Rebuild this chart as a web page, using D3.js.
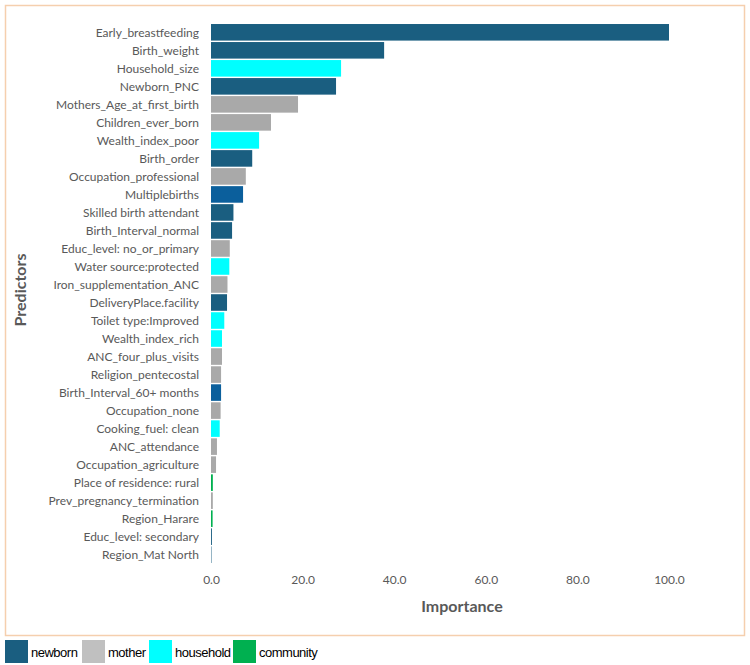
<!DOCTYPE html>
<html>
<head>
<meta charset="utf-8">
<script src="https://cdn.jsdelivr.net/npm/d3@7"></script>
<style>
  body { margin: 0; background: #fff; }
  svg { display: block; }
</style>
</head>
<body>
<div class="content"></div>
<script>
const predictors = [
  'Early_breastfeeding', 'Birth_weight', 'Household_size', 'Newborn_PNC',
  'Mothers_Age_at_first_birth', 'Children_ever_born', 'Wealth_index_poor',
  'Birth_order', 'Occupation_professional', 'Multiplebirths',
  'Skilled birth attendant', 'Birth_Interval_normal', 'Educ_level: no_or_primary',
  'Water source:protected', 'Iron_supplementation_ANC', 'DeliveryPlace.facility',
  'Toilet type:Improved', 'Wealth_index_rich', 'ANC_four_plus_visits',
  'Religion_pentecostal', 'Birth_Interval_60+ months', 'Occupation_none',
  'Cooking_fuel: clean', 'ANC_attendance', 'Occupation_agriculture',
  'Place of residence: rural', 'Prev_pregnancy_termination', 'Region_Harare',
  'Educ_level: secondary', 'Region_Mat North'
]
const importance = [
  100, 37.8, 28.4, 27.3, 19.0, 13.1, 10.5, 9.0, 7.6, 7.0,
  4.9, 4.6, 4.1, 4.0, 3.6, 3.5, 2.9, 2.4, 2.4, 2.2,
  2.2, 2.1, 1.9, 1.3, 1.1, 0.4, 0.4, 0.35, 0.2, 0.1
]
const level = [
  'newborn', 'newborn', 'household', 'newborn', 'mother', 'mother', 'household',
  'newborn', 'mother', 'newborn', 'newborn', 'newborn', 'mother', 'household',
  'mother', 'newborn', 'household', 'household', 'mother', 'mother', 'newborn',
  'mother', 'household', 'mother', 'mother', 'community', 'mother', 'community',
  'newborn', 'newborn'
]
const legendKeys = ['newborn', 'mother', 'household', 'community']
const xTicks = [0, 20, 40, 60, 80, 100]

const barColor = { newborn: '#1a5e80', mother: '#a9a9a9', household: '#00ffff', community: '#00b050' }
const keyColor = { newborn: '#1a5e80', mother: '#c0c0c0', household: '#00ffff', community: '#00b050' }
// two newborn bars are drawn in a brighter blue in the original
const brightBlue = ['Multiplebirths', 'Birth_Interval_60+ months']

const width = 750
const height = 665
const left = 211
const right = 669

const svg = d3.select('div.content')
  .append('svg')
  .attr('width', width)
  .attr('height', height)

// frame
svg.append('rect')
  .attr('x', 5.5)
  .attr('y', 5.5)
  .attr('width', 739)
  .attr('height', 630)
  .attr('fill', 'none')
  .attr('stroke', '#f5cfae')
  .attr('stroke-width', 1.5)

const x = d3.scaleLinear().domain([0, 100]).range([left, right])
const y = d3.scaleBand().domain(predictors).range([23.3, 563.7]).paddingInner(0.08).paddingOuter(0.04)

svg.append('g')
  .selectAll('rect')
  .data(predictors)
  .join('rect')
  .attr('x', x(0))
  .attr('y', d => y(d))
  .attr('width', (d, i) => x(importance[i]) - x(0))
  .attr('height', y.bandwidth())
  .attr('fill', (d, i) => brightBlue.includes(d) ? '#0b5f9c' : barColor[level[i]])

// predictor labels
svg.append('g')
  .selectAll('text')
  .data(predictors)
  .join('text')
  .attr('x', 199)
  .attr('y', d => y(d) + y.bandwidth() / 2)
  .attr('dy', '0.35em')
  .attr('text-anchor', 'end')
  .attr('font-family', 'Lato, sans-serif')
  .attr('font-size', 12)
  .attr('fill', '#595959')
  .text(d => d)

// x axis, no line
const xAxis = svg.append('g')
  .attr('transform', 'translate(0,572)')
  .call(d3.axisBottom(x).tickValues(xTicks).tickFormat(d3.format('.1f')).tickSize(0))
xAxis.select('.domain').remove()
xAxis.selectAll('text')
  .attr('font-family', 'Lato, sans-serif')
  .attr('font-size', 12)
  .attr('fill', '#595959')

svg.append('text')
  .attr('x', 462)
  .attr('y', 612)
  .attr('text-anchor', 'middle')
  .attr('font-family', 'Lato, sans-serif')
  .attr('font-weight', 'bold')
  .attr('font-size', 16)
  .attr('fill', '#595959')
  .text('Importance')

svg.append('text')
  .attr('transform', 'translate(26,290) rotate(-90)')
  .attr('text-anchor', 'middle')
  .attr('font-family', 'Lato, sans-serif')
  .attr('font-weight', 'bold')
  .attr('font-size', 16)
  .attr('fill', '#595959')
  .text('Predictors')

// legend below the frame
const legendX = [5, 82, 149, 233]
const legend = svg.append('g')
  .selectAll('g')
  .data(legendKeys)
  .join('g')
  .attr('transform', (d, i) => `translate(${legendX[i]},640)`)
legend.append('rect')
  .attr('width', 23)
  .attr('height', 23)
  .attr('fill', d => keyColor[d])
legend.append('text')
  .attr('x', 26)
  .attr('y', 12)
  .attr('dy', '0.35em')
  .attr('font-family', 'Liberation Sans, Arial, sans-serif')
  .attr('font-size', 13)
  .attr('letter-spacing', -0.5)
  .attr('fill', '#000')
  .text(d => d)
</script>
</body>
</html>
